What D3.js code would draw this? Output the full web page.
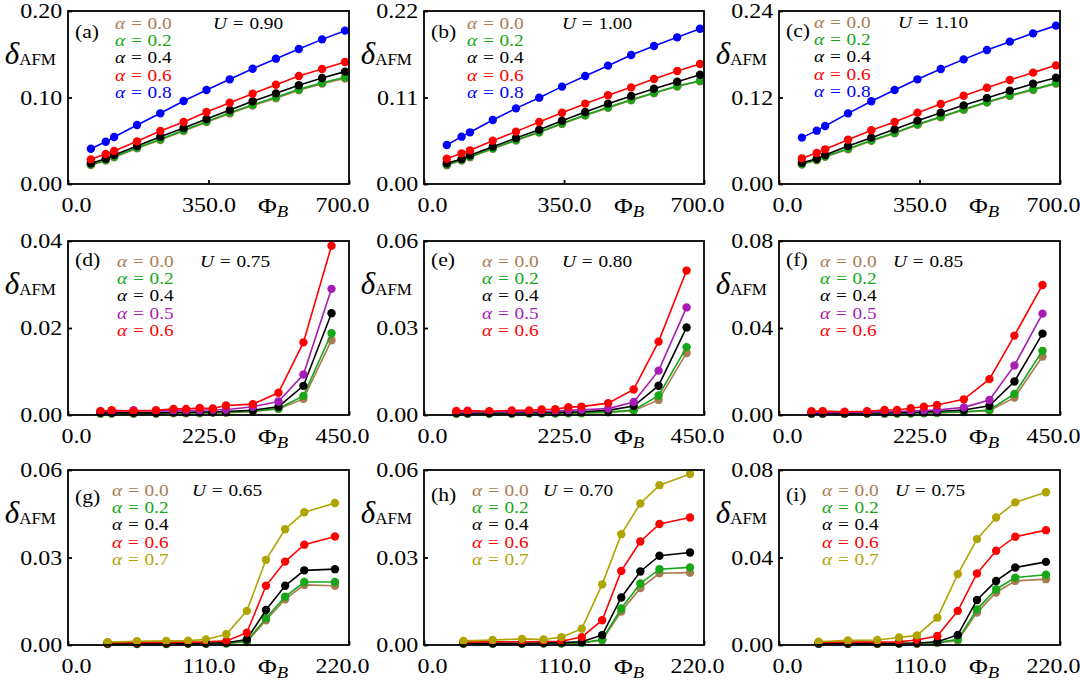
<!DOCTYPE html>
<html><head><meta charset="utf-8">
<script src="https://cdn.jsdelivr.net/npm/d3@7"></script>
<style>body{margin:0;background:#fff}svg{display:block}</style>
</head><body><svg id="c" width="1080" height="684"></svg>
<script>
// ---------------- DATA ----------------
const xRow1 = [57, 94, 115, 172, 230, 288, 345, 403, 460, 518, 575, 633, 690];
const xRow2 = [52, 70, 105, 141, 169, 189, 211, 232, 253, 296, 337, 377, 422];
const xRow3 = [31, 54, 77, 94, 108, 124, 140, 155, 170, 185, 209];

const alphaRow1 = ["0.0", "0.2", "0.4", "0.6", "0.8"];
const alphaRow2 = ["0.0", "0.2", "0.4", "0.5", "0.6"];
const alphaRow3 = ["0.0", "0.2", "0.4", "0.6", "0.7"];

const uLabels = ["0.90", "1.00", "1.10", "0.75", "0.80", "0.85", "0.65", "0.70", "0.75"];
const panelTags = ["(a)", "(b)", "(c)", "(d)", "(e)", "(f)", "(g)", "(h)", "(i)"];
const xMax = [700, 700, 700, 450, 450, 450, 220, 220, 220];
const yMax = [0.20, 0.22, 0.24, 0.04, 0.06, 0.08, 0.06, 0.06, 0.08];

// series order: legend order (bottom drawn first)
const panelA = [
  [0.0218, 0.0270, 0.0310, 0.0412, 0.0508, 0.0612, 0.0715, 0.0815, 0.0907, 0.0992, 0.1083, 0.1160, 0.1220],
  [0.0224, 0.0277, 0.0316, 0.0420, 0.0516, 0.0620, 0.0724, 0.0825, 0.0917, 0.1002, 0.1094, 0.1171, 0.1233],
  [0.0239, 0.0293, 0.0335, 0.0439, 0.0547, 0.0647, 0.0751, 0.0855, 0.0956, 0.1048, 0.1141, 0.1225, 0.1299],
  [0.0285, 0.0347, 0.0382, 0.0493, 0.0613, 0.0717, 0.0832, 0.0940, 0.1044, 0.1148, 0.1249, 0.1329, 0.1410],
  [0.0408, 0.0489, 0.0543, 0.0682, 0.0817, 0.0960, 0.1087, 0.1210, 0.1333, 0.1449, 0.1561, 0.1672, 0.1773]
];
const panelB = [
  [0.0239, 0.0298, 0.0341, 0.0447, 0.0553, 0.0654, 0.0764, 0.0870, 0.0968, 0.1065, 0.1154, 0.1239, 0.1306],
  [0.0246, 0.0305, 0.0348, 0.0454, 0.0560, 0.0661, 0.0771, 0.0877, 0.0975, 0.1072, 0.1161, 0.1246, 0.1314],
  [0.0263, 0.0318, 0.0365, 0.0475, 0.0585, 0.0691, 0.0805, 0.0916, 0.1022, 0.1119, 0.1212, 0.1301, 0.1390],
  [0.0322, 0.0390, 0.0428, 0.0551, 0.0666, 0.0788, 0.0907, 0.1022, 0.1128, 0.1229, 0.1335, 0.1437, 0.1526],
  [0.0496, 0.0602, 0.0657, 0.0814, 0.0962, 0.1098, 0.1238, 0.1373, 0.1505, 0.1640, 0.1755, 0.1865, 0.1975]
];
const panelC = [
  [0.0270, 0.0330, 0.0376, 0.0482, 0.0598, 0.0704, 0.0820, 0.0926, 0.1028, 0.1130, 0.1222, 0.1305, 0.1392],
  [0.0277, 0.0338, 0.0384, 0.0490, 0.0606, 0.0712, 0.0828, 0.0934, 0.1036, 0.1138, 0.1230, 0.1313, 0.1401],
  [0.0296, 0.0351, 0.0402, 0.0527, 0.0643, 0.0758, 0.0879, 0.0990, 0.1091, 0.1193, 0.1295, 0.1392, 0.1475],
  [0.0356, 0.0430, 0.0481, 0.0615, 0.0745, 0.0860, 0.0990, 0.1110, 0.1225, 0.1336, 0.1443, 0.1545, 0.1646],
  [0.0643, 0.0740, 0.0805, 0.0980, 0.1147, 0.1304, 0.1452, 0.1595, 0.1729, 0.1859, 0.1975, 0.2090, 0.2197]
];
const panelD = [
  [0.0003, 0.0003, 0.0003, 0.0003, 0.0004, 0.0004, 0.0004, 0.0005, 0.0005, 0.0008, 0.0014, 0.0037, 0.0172],
  [0.0004, 0.0004, 0.0004, 0.0004, 0.0005, 0.0005, 0.0005, 0.0006, 0.0006, 0.0009, 0.0015, 0.0044, 0.0188],
  [0.0005, 0.0005, 0.0005, 0.0005, 0.0006, 0.0006, 0.0007, 0.0007, 0.0008, 0.0011, 0.0019, 0.0067, 0.0234],
  [0.0008, 0.0008, 0.0011, 0.0009, 0.0010, 0.0010, 0.0011, 0.0012, 0.0012, 0.0019, 0.0031, 0.0093, 0.0290],
  [0.0009, 0.0011, 0.0009, 0.0011, 0.0014, 0.0014, 0.0016, 0.0015, 0.0022, 0.0025, 0.0051, 0.0167, 0.0389]
];
const panelE = [
  [0.0004, 0.0004, 0.0004, 0.0004, 0.0005, 0.0005, 0.0005, 0.0006, 0.0006, 0.0009, 0.0015, 0.0052, 0.0214],
  [0.0005, 0.0005, 0.0005, 0.0005, 0.0006, 0.0006, 0.0006, 0.0007, 0.0007, 0.0010, 0.0017, 0.0067, 0.0234],
  [0.0007, 0.0007, 0.0007, 0.0007, 0.0008, 0.0008, 0.0009, 0.0010, 0.0011, 0.0016, 0.0031, 0.0101, 0.0302],
  [0.0010, 0.0010, 0.0011, 0.0011, 0.0012, 0.0013, 0.0014, 0.0016, 0.0018, 0.0022, 0.0045, 0.0153, 0.0371],
  [0.0014, 0.0015, 0.0013, 0.0016, 0.0016, 0.0019, 0.0020, 0.0027, 0.0029, 0.0041, 0.0088, 0.0253, 0.0498]
];
const panelF = [
  [0.0005, 0.0005, 0.0005, 0.0006, 0.0006, 0.0007, 0.0007, 0.0008, 0.0009, 0.0014, 0.0020, 0.0080, 0.0269],
  [0.0006, 0.0006, 0.0006, 0.0007, 0.0007, 0.0008, 0.0008, 0.0009, 0.0010, 0.0015, 0.0023, 0.0097, 0.0295],
  [0.0008, 0.0008, 0.0008, 0.0009, 0.0010, 0.0011, 0.0012, 0.0014, 0.0016, 0.0023, 0.0042, 0.0154, 0.0374],
  [0.0012, 0.0012, 0.0012, 0.0013, 0.0015, 0.0016, 0.0018, 0.0020, 0.0023, 0.0035, 0.0069, 0.0228, 0.0466],
  [0.0017, 0.0018, 0.0015, 0.0017, 0.0023, 0.0023, 0.0031, 0.0038, 0.0046, 0.0072, 0.0165, 0.0365, 0.0598]
];
const panelG = [
  [0.0003, 0.0003, 0.0003, 0.0004, 0.0004, 0.0005, 0.0010, 0.0085, 0.0157, 0.0206, 0.0203],
  [0.0004, 0.0004, 0.0004, 0.0005, 0.0005, 0.0006, 0.0013, 0.0092, 0.0166, 0.0216, 0.0216],
  [0.0005, 0.0005, 0.0005, 0.0006, 0.0006, 0.0008, 0.0019, 0.0120, 0.0203, 0.0256, 0.0260],
  [0.0008, 0.0009, 0.0009, 0.0010, 0.0011, 0.0014, 0.0042, 0.0203, 0.0286, 0.0344, 0.0372],
  [0.0010, 0.0013, 0.0014, 0.0015, 0.0019, 0.0037, 0.0117, 0.0292, 0.0397, 0.0455, 0.0487]
];
const panelH = [
  [0.0004, 0.0004, 0.0004, 0.0005, 0.0005, 0.0007, 0.0016, 0.0115, 0.0195, 0.0246, 0.0248],
  [0.0005, 0.0005, 0.0005, 0.0006, 0.0006, 0.0008, 0.0019, 0.0125, 0.0211, 0.0260, 0.0266],
  [0.0006, 0.0006, 0.0006, 0.0007, 0.0008, 0.0011, 0.0034, 0.0163, 0.0252, 0.0306, 0.0317],
  [0.0010, 0.0011, 0.0011, 0.0012, 0.0013, 0.0027, 0.0085, 0.0254, 0.0355, 0.0415, 0.0437],
  [0.0014, 0.0017, 0.0021, 0.0019, 0.0027, 0.0056, 0.0208, 0.0380, 0.0485, 0.0548, 0.0586]
];
const panelI = [
  [0.0005, 0.0005, 0.0005, 0.0006, 0.0006, 0.0009, 0.0021, 0.0148, 0.0240, 0.0293, 0.0301],
  [0.0006, 0.0006, 0.0006, 0.0007, 0.0007, 0.0011, 0.0026, 0.0163, 0.0255, 0.0308, 0.0321],
  [0.0007, 0.0007, 0.0008, 0.0008, 0.0009, 0.0015, 0.0046, 0.0206, 0.0293, 0.0354, 0.0380],
  [0.0012, 0.0013, 0.0013, 0.0015, 0.0023, 0.0041, 0.0156, 0.0327, 0.0431, 0.0495, 0.0525],
  [0.0015, 0.0021, 0.0023, 0.0034, 0.0044, 0.0125, 0.0324, 0.0484, 0.0583, 0.0652, 0.0698]
];

// ---------------- STYLE / LAYOUT ----------------
const C = {brown: "#a87c52", green: "#16a616", black: "#000000", red: "#ff0000",
           blue: "#0000ff", purple: "#a61cb4", olive: "#afa400"};
const colorsRow1 = [C.brown, C.green, C.black, C.red, C.blue];
const colorsRow2 = [C.brown, C.green, C.black, C.purple, C.red];
const colorsRow3 = [C.brown, C.green, C.black, C.red, C.olive];

const colLeft = [68, 424, 779], colW = [281, 280, 281];
const rowTop = [11, 241, 470], rowH = [173, 174, 175];
const legDx = [47, 43, 35, 49, 58, 41, 44, 48, 43];
const uDx = [145, 138, 119, 132, 138, 114, 124, 119, 116];
const legBase = [18, 18, 17, 26, 26, 26, 26, 26, 26];
const tagBase = [27, 27, 26, 25, 25, 25, 33, 31, 31];
const SX = 1.17;
const FONT = "'Liberation Serif','Times New Roman',serif";

const svg = d3.select("#c");

const allX = [xRow1, xRow1, xRow1, xRow2, xRow2, xRow2, xRow3, xRow3, xRow3];
const allY = [panelA, panelB, panelC, panelD, panelE, panelF, panelG, panelH, panelI];
const allAlpha = [alphaRow1, alphaRow2, alphaRow3];
const allCol = [colorsRow1, colorsRow2, colorsRow3];

function mathText(g, x, y, parts, size, fill, anchor) {
  const t = g.append("text")
    .attr("transform", `translate(${x},${y}) scale(${SX},1)`)
    .attr("font-family", FONT).attr("font-size", size)
    .attr("fill", fill).attr("text-anchor", anchor || "start");
  parts.forEach(p => {
    const s = t.append("tspan").text(p.t);
    if (p.i) s.attr("font-style", "italic");
    if (p.dx) s.attr("dx", p.dx);
  });
  return t;
}

for (let i = 0; i < 9; i++) {
  const r = Math.floor(i / 3), c = i % 3;
  const w = colW[c], h = rowH[r];
  const L = colLeft[c], T = rowTop[r];
  const g = svg.append("g").attr("transform", `translate(${L},${T})`);
  const x = d3.scaleLinear().domain([0, xMax[i]]).range([0, w]);
  const y = d3.scaleLinear().domain([0, yMax[i]]).range([h, 0]);
  const xs = allX[i], series = allY[i], cols = allCol[r], alphas = allAlpha[r];

  // data
  series.forEach((vals, s) => {
    const line = d3.line().x((d, j) => x(xs[j])).y(d => y(d));
    g.append("path").datum(vals).attr("d", line).attr("fill", "none")
      .attr("stroke", cols[s]).attr("stroke-width", 1.6);
    g.selectAll(null).data(vals).enter().append("circle")
      .attr("cx", (d, j) => x(xs[j])).attr("cy", d => y(d)).attr("r", 4.2)
      .attr("fill", cols[s]);
  });

  // axes
  const xa = g.append("g").attr("transform", `translate(0,${h})`)
    .call(d3.axisBottom(x).tickValues([0, xMax[i] / 2, xMax[i]])
      .tickFormat(d3.format(".1f")).tickSizeInner(-4).tickSizeOuter(0).tickPadding(13));
  xa.select(".domain").remove();
  xa.selectAll("line").attr("stroke", "#000").attr("stroke-width", 1.8);
  xa.selectAll("text").attr("font-family", FONT).attr("font-size", 20.5)
    .attr("fill", "#000").attr("transform", `scale(${SX},1)`);
  xa.selectAll("text").filter((d, k) => k === 0).attr("x", 8 / SX);
  xa.selectAll("text").filter((d, k) => k === 2).attr("x", -7 / SX);

  const ya = g.append("g")
    .call(d3.axisLeft(y).tickValues([0, yMax[i] / 2, yMax[i]])
      .tickFormat(d3.format(".2f")).tickSizeInner(-4).tickSizeOuter(0).tickPadding(5));
  ya.select(".domain").remove();
  ya.selectAll("line").attr("stroke", "#000").attr("stroke-width", 1.8);
  ya.selectAll("text").attr("font-family", FONT).attr("font-size", 20.5)
    .attr("fill", "#000").attr("transform", `scale(${SX},1)`);

  // spine
  g.append("rect").attr("x", 0).attr("y", 0).attr("width", w).attr("height", h)
    .attr("fill", "none").attr("stroke", "#000").attr("stroke-width", 1.8);

  // legend
  alphas.forEach((a, s) => {
    mathText(g, legDx[i], legBase[i] + s * 17.2,
      [{t: "α", i: true}, {t: "=", dx: "0.3em"}, {t: a, dx: "0.3em"}], 16.5, cols[s]);
  });
  mathText(g, uDx[i], legBase[i],
    [{t: "U", i: true}, {t: "=", dx: "0.3em"}, {t: uLabels[i], dx: "0.3em"}], 16.5, "#000");
  mathText(g, 7, tagBase[i], [{t: panelTags[i]}], 18.5, "#000");

  // y label
  const yl = svg.append("text").attr("x", L - 12).attr("y", T + 53)
    .attr("text-anchor", "end").attr("font-family", FONT).attr("fill", "#000");
  yl.append("tspan").attr("font-style", "italic").attr("font-size", 31).text("δ");
  yl.append("tspan").attr("font-size", 17).attr("dy", 1).text("AFM");

  // x label
  const xl = svg.append("text").attr("transform", `translate(${L + 190},${T + h + 29}) scale(${SX},1)`)
    .attr("font-family", FONT).attr("fill", "#000");
  xl.append("tspan").attr("font-size", 22).text("Φ");
  xl.append("tspan").attr("font-size", 16).attr("font-style", "italic").attr("dy", 4).text("B");
}
</script></body></html>
